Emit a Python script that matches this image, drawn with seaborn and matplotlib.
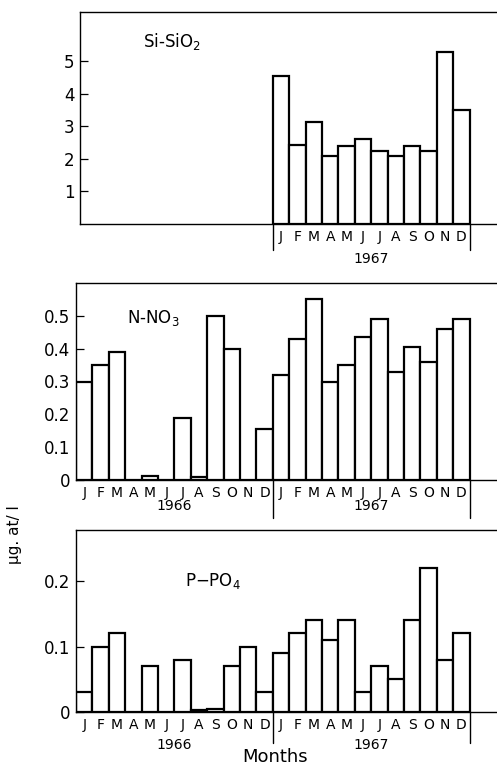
"""
Monthly nutrient concentrations (Si-SiO2, N-NO3, P-PO4), 1966-1967
"""
import matplotlib
matplotlib.use("Agg")
import matplotlib.pyplot as plt
import matplotlib.transforms as mtransforms
import seaborn as sns
import pandas as pd

sns.set_theme(style="white")
plt.rcParams["font.family"] = ["DejaVu Sans"]
plt.rcParams["text.color"] = "black"
plt.rcParams["xtick.color"] = "black"
plt.rcParams["ytick.color"] = "black"
plt.rcParams["axes.labelcolor"] = "black"

W, H = 497, 771

months = ["J", "F", "M", "A", "M", "J", "J", "A", "S", "O", "N", "D"]
years = ["1966", "1967"]

# silicate only sampled in 1967
si_1967 = [4.53, 2.43, 3.13, 2.10, 2.40, 2.60, 2.25, 2.09, 2.39, 2.25, 5.28, 3.48]

no3_1966 = [0.30, 0.35, 0.39, 0.0, 0.013, 0.0, 0.19, 0.01, 0.50, 0.40, 0.0, 0.155]
no3_1967 = [0.32, 0.43, 0.55, 0.30, 0.35, 0.435, 0.49, 0.33, 0.405, 0.36, 0.46, 0.49]

po4_1966 = [0.03, 0.10, 0.12, 0.0, 0.07, 0.0, 0.08, 0.003, 0.004, 0.07, 0.10, 0.03]
po4_1967 = [0.09, 0.12, 0.14, 0.11, 0.14, 0.03, 0.07, 0.05, 0.14, 0.22, 0.08, 0.12]

n_slots = 24
bar_px = 16.4


def make_df(vals, start):
    return pd.DataFrame({"slot": list(range(start, start + len(vals))), "value": vals})


def panel(ax, df, ylim, yticks, yticklabels, label, label_xy, show_1966, year_off, sep_len):
    sns.barplot(data=df, x="slot", y="value", order=list(range(n_slots)), ax=ax,
                width=1.0, color="white", edgecolor="black", linewidth=1.6,
                errorbar=None)
    ax.set_xlim(-0.5, -0.5 + (W - 76) / bar_px)
    ax.set_ylim(*ylim)
    ax.set_yticks(yticks)
    ax.set_yticklabels(yticklabels, fontsize=12)
    ax.tick_params(axis="y", direction="in", length=6, width=0.9, pad=4, left=True)
    ax.set_xticks(range(n_slots))
    ax.set_xticklabels(months * 2, fontsize=10)
    ax.tick_params(axis="x", length=0, pad=4)
    if not show_1966:
        for lbl in ax.get_xticklabels()[:12]:
            lbl.set_visible(False)
    ax.set_xlabel("")
    ax.set_ylabel("")
    for s in ["left", "top", "bottom"]:
        ax.spines[s].set_color("black")
        ax.spines[s].set_linewidth(1.0)
    ax.spines["right"].set_visible(False)
    ax.text(label_xy[0], label_xy[1], label, transform=ax.transAxes, fontsize=12,
            ha="left", va="center")

    trans = mtransforms.blended_transform_factory(ax.transData, ax.transAxes)
    hpx = ax.get_position().height * H
    # year separators and year labels below the month letters
    for b in [11.5, 23.5]:
        ax.plot([b, b], [0, -sep_len / hpx], transform=trans, color="black",
                lw=1.0, clip_on=False)
    for i, yr in enumerate(years):
        if i == 0 and not show_1966:
            continue
        ax.text(5.5 + 12 * i, -year_off / hpx, yr, transform=trans, fontsize=10,
                ha="center", va="center")


fig = plt.figure(figsize=(W / 100, H / 100), dpi=100)

ax1 = fig.add_axes([80 / W, 1 - 224 / H, 1 - 80 / W, (224 - 12) / H])
ax2 = fig.add_axes([76 / W, 1 - 480 / H, 1 - 76 / W, (480 - 283) / H])
ax3 = fig.add_axes([76 / W, 1 - 712 / H, 1 - 76 / W, (712 - 530) / H])

panel(ax1, make_df(si_1967, 12), (0, 6.5), [1, 2, 3, 4, 5], ["1", "2", "3", "4", "5"],
      r"Si-SiO$_2$", (0.15, 0.86), False, 35, 26)
ax1.set_xlim(-0.5 + 4 / bar_px, -0.5 + (W - 76) / bar_px)

panel(ax2, make_df(no3_1966 + no3_1967, 0), (0, 0.6), [0, 0.1, 0.2, 0.3, 0.4, 0.5],
      ["0", "0.1", "0.2", "0.3", "0.4", "0.5"], r"N-NO$_3$", (0.12, 0.82), True, 26, 38)

panel(ax3, make_df(po4_1966 + po4_1967, 0), (0, 0.278), [0, 0.1, 0.2],
      ["0", "0.1", "0.2"], r"P$-$PO$_4$", (0.26, 0.72), True, 33, 31)

fig.text(15 / W, 1 - 535 / H, "µg. at/ l", rotation=90, fontsize=11, ha="center", va="center")
fig.text(275 / W, 1 - 757 / H, "Months", fontsize=13, ha="center", va="center")

fig.savefig("out.png", dpi=100, facecolor="white")
